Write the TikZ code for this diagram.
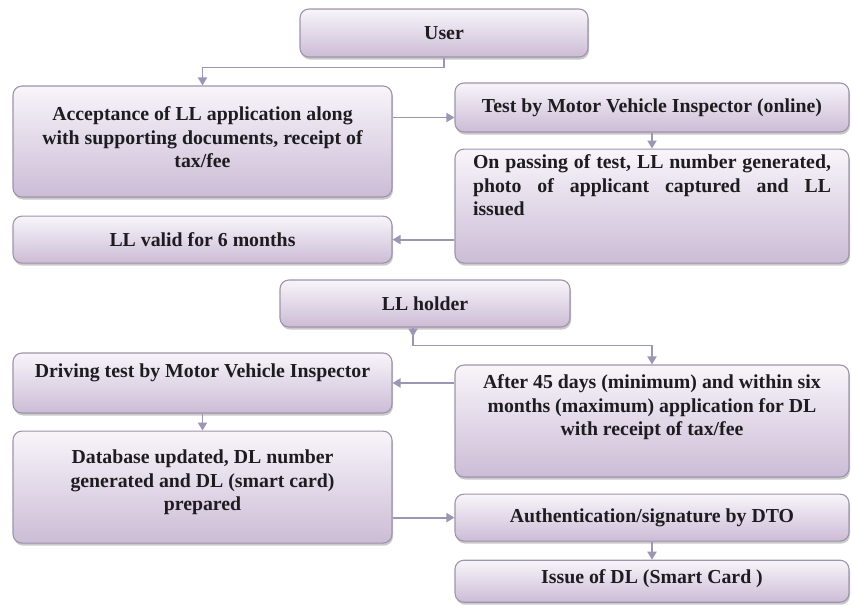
\documentclass[tikz,border=0pt]{standalone}
\usepackage{fontspec}
\setmainfont{Liberation Serif}
\usetikzlibrary{arrows.meta,positioning,shadows}

\definecolor{boxtop}{RGB}{248,245,250}
\definecolor{boxbot}{RGB}{204,188,214}
\definecolor{boxline}{RGB}{158,148,172}
\definecolor{linkc}{RGB}{156,149,180}
\definecolor{inkc}{RGB}{30,28,32}

% extra depth under the last line, pushes the text up in its box
\newcommand{\padbelow}[1]{\rule[-#1]{0pt}{#1}}

\begin{document}
\begin{tikzpicture}[
  x=1pt, y=-1pt,
  node distance=17pt and 63pt,
  proc/.style={rectangle, draw=boxline, line width=1.1pt, rounded corners=9pt,
    top color=boxtop, bottom color=boxbot, align=center, text=inkc,
    font=\fontsize{19.8}{23.5}\selectfont\bfseries, inner sep=4pt,
    drop shadow={shadow xshift=1pt, shadow yshift=-2.5pt, opacity=0.35, fill=black!60}},
  narrow/.style={proc, minimum width=379pt},
  wide/.style={proc, minimum width=394pt},
  arrow/.style={-{Triangle[length=8pt, width=9pt]}, line width=1.8pt, draw=linkc},
  >=Triangle
]
\useasboundingbox[fill=white] (0,0) rectangle (852,606);

% Learner licence part
\node[proc, minimum width=288pt, minimum height=48pt] (user) at (444,33) {User};
\node[narrow, minimum height=111pt] (accept) at (202.5,141.5)
  {Acceptance of LL application along\\with supporting documents, receipt of\\tax/fee\padbelow{8pt}};
\node[narrow, minimum height=47pt, below=18pt of accept] (valid)
  {LL valid for 6 months};
\node[wide, minimum height=49pt] (mvitest) at (652,107.5)
  {Test by Motor Vehicle Inspector (online)};
\node[wide, minimum height=114pt, text width=358pt, align=justify, below=16pt of mvitest] (passed)
  {On passing of test, LL number generated,\linebreak photo of applicant captured and LL\linebreak issued\padbelow{42pt}};

% Driving licence part
\node[proc, minimum width=290pt, minimum height=47pt] (holder) at (425,303.5) {LL holder};
\node[narrow, minimum height=60pt] (drivetest) at (202.5,383)
  {Driving test by Motor Vehicle Inspector\padbelow{24pt}};
\node[narrow, minimum height=112pt, below=17pt of drivetest] (dbupd)
  {Database updated, DL number\\generated and DL (smart card)\\prepared\padbelow{13pt}};
\node[wide, minimum height=112pt] (apply) at (652,421)
  {After 45 days (minimum) and within six\\months (maximum) application for DL\\with receipt of tax/fee\padbelow{31pt}};
\node[wide, minimum height=47pt, below=16pt of apply] (auth)
  {Authentication/signature by DTO};
\node[wide, minimum height=42pt, below=18pt of auth] (issue)
  {Issue of DL (Smart Card )\padbelow{10pt}};

% Connectors
\draw[arrow] (user.south) -- ++(0,10) -| (accept.north);
\draw[arrow] ([yshift=-10pt]accept.east |- mvitest.west) -- ([yshift=-10pt]mvitest.west);
\draw[arrow] (mvitest) -- (passed);
\draw[arrow] (valid.east -| passed.west) -- (valid.east);
\draw[arrow] ([xshift=-12pt]holder.south) -- ++(0,9);
\draw[arrow] ([xshift=-12pt]holder.south) -- ++(0,18) -| (apply.north);
\draw[arrow] (drivetest.east -| apply.west) -- (drivetest.east);
\draw[arrow] (drivetest) -- (dbupd);
\draw[arrow] (auth.west -| dbupd.east) -- (auth.west);
\draw[arrow] (auth) -- (issue);

\end{tikzpicture}
\end{document}
